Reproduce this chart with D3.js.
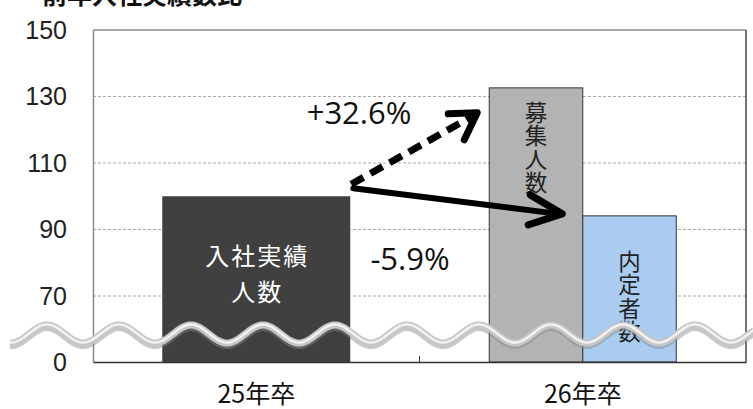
<!DOCTYPE html>
<html><head><meta charset="utf-8">
<script src="https://cdn.jsdelivr.net/npm/d3@7"></script>
<style>
body{margin:0;background:#fff;}
svg{display:block;}
</style></head><body>
<svg id="c" width="753" height="409"></svg>
<script>
// ---- data ----
const categories = ["25年卒", "26年卒"];
const actual25 = [100];            // 入社実績人数 (index)
const recruit26 = [132.6];         // 募集人数
const offers26 = [94.1];           // 内定者数
const changeLabels = ["+32.6%", "-5.9%"];
const yTicks = [0, 70, 90, 110, 130, 150];
const title = "前年入社実績数比";

const svg = d3.select("#c");
const L = 93, R = 746, T = 30, B = 362;
const font = "'Liberation Sans', Arial, sans-serif";
const cjk = "'Noto Sans CJK JP', sans-serif";

// broken axis: 0..70 compressed, 70..150 linear
const y = d3.scaleLinear().domain([0, 70, 150]).range([B, 296, T]);
const x = d3.scaleBand().domain(categories).range([L, R]);

// title (cut off at top)
svg.append("text").attr("x", 42).attr("y", 4)
  .attr("font-family", cjk).attr("font-weight", "bold").attr("font-size", 25)
  .attr("fill", "#111").text(title);

// gridlines
svg.append("g").selectAll("line").data(yTicks.filter(d => d > 0 && d < 150)).join("line")
  .attr("x1", L).attr("x2", R).attr("y1", d => y(d)).attr("y2", d => y(d))
  .attr("stroke", "#a8a8a8").attr("stroke-width", 1).attr("stroke-dasharray", "3,2");

// frame
svg.append("line").attr("x1", L).attr("x2", R).attr("y1", y(150)).attr("y2", y(150)).attr("stroke", "#555").attr("stroke-width", 1);
svg.append("line").attr("x1", R).attr("x2", R).attr("y1", T).attr("y2", B).attr("stroke", "#444").attr("stroke-width", 1.5);

// bars
const bw = 188;
const c25 = x(categories[0]) + x.bandwidth() / 2;
const c26 = x(categories[1]) + x.bandwidth() / 2;
svg.append("g").selectAll("rect").data(actual25).join("rect")
  .attr("x", c25 - bw / 2).attr("width", bw)
  .attr("y", d => y(d)).attr("height", d => B - y(d))
  .attr("fill", "#404040");
const hw = 93.5;
svg.append("g").selectAll("rect").data(recruit26).join("rect")
  .attr("x", c26 - hw).attr("width", hw)
  .attr("y", d => y(d)).attr("height", d => B - y(d))
  .attr("fill", "#b3b3b3").attr("stroke", "#333").attr("stroke-width", 1);
svg.append("g").selectAll("rect").data(offers26).join("rect")
  .attr("x", c26).attr("width", hw)
  .attr("y", d => y(d)).attr("height", d => B - y(d))
  .attr("fill", "#a9ccf0").attr("stroke", "#333").attr("stroke-width", 1);

// bar inner labels
svg.append("text").attr("x", c25 + 1).attr("y", 254).attr("text-anchor", "middle").attr("dominant-baseline", "central")
  .attr("font-family", cjk).attr("font-size", 24).attr("letter-spacing", 2).attr("fill", "#fff").text("入社実績");
svg.append("text").attr("x", c25 + 1).attr("y", 290).attr("text-anchor", "middle").attr("dominant-baseline", "central")
  .attr("font-family", cjk).attr("font-size", 24).attr("letter-spacing", 2).attr("fill", "#fff").text("人数");
function vtext(str, cx, y0, step) {
  [...str].forEach((ch, i) => {
    svg.append("text").attr("x", cx).attr("y", y0 + i * step).attr("text-anchor", "middle")
      .attr("dominant-baseline", "central")
      .attr("font-family", cjk).attr("font-size", 22.5).attr("fill", "#222").text(ch);
  });
}
vtext("募集人数", c26 - hw / 2, 111, 23.3);
vtext("内定者数", c26 + hw / 2, 260, 23.3);

// axes
const ya = svg.append("g").attr("transform", `translate(${L},0)`)
  .call(d3.axisLeft(y).tickValues(yTicks).tickSize(0).tickPadding(26).tickFormat(d3.format("d")));
ya.select(".domain").attr("stroke", "#888").attr("stroke-width", 1.5);
ya.selectAll("text").style("font-family", font).style("font-size", "25px").attr("fill", "#222");

const xa = svg.append("g").attr("transform", `translate(0,${B})`)
  .call(d3.axisBottom(x).tickSize(0).tickPadding(23));
xa.select(".domain").attr("stroke", "#333").attr("stroke-width", 1.5);
xa.selectAll("text").style("font-family", cjk).style("font-size", "25px").attr("fill", "#111");
svg.append("line").attr("x1", x(categories[1])).attr("x2", x(categories[1]))
  .attr("y1", B).attr("y2", B - 6).attr("stroke", "#333").attr("stroke-width", 1);

// change arrows
const sx = c25 + bw / 2 + 1, sy = y(actual25[0]) - 12;
const ax = svg.append("g").attr("fill", "none").attr("stroke", "#000").attr("stroke-linecap", "round").attr("stroke-linejoin", "round");
// dashed arrow to recruit
const t1 = [c26 - hw - 12, y(recruit26[0]) + 25];
ax.append("line").attr("x1", sx).attr("y1", sy).attr("x2", t1[0] - 6).attr("y2", t1[1] + 4)
  .attr("stroke-width", 7).attr("stroke-dasharray", "14,8").attr("stroke-linecap", "butt");
ax.append("path").attr("d", `M${t1[0]-29},${t1[1]+1} L${t1[0]},${t1[1]} L${t1[0]-13},${t1[1]+27}`).attr("stroke-width", 7);
// solid arrow to offers
const s2 = [sx + 2, sy + 4];
const t2 = [c26 - hw + 73, y(offers26[0]) - 2];
ax.append("line").attr("x1", s2[0]).attr("y1", s2[1]).attr("x2", t2[0] - 4).attr("y2", t2[1]).attr("stroke-width", 6);
ax.append("path").attr("d", `M${t2[0]-32},${t2[1]-19} L${t2[0]},${t2[1]} L${t2[0]-34},${t2[1]+11}`).attr("stroke-width", 7);

svg.append("text").attr("x", 359).attr("y", 124).attr("text-anchor", "middle")
  .attr("font-family", "'Open Sans', sans-serif").attr("font-size", 31).attr("fill", "#111").text(changeLabels[0]);
svg.append("text").attr("x", 410).attr("y", 270).attr("text-anchor", "middle")
  .attr("font-family", "'Open Sans', sans-serif").attr("font-size", 31).attr("fill", "#111").text(changeLabels[1]);

// axis break wave (decoration)
const pts = d3.range(10, 756, 2).map(px => [px, 334 + 9 * Math.cos((px - 47) / 72 * 2 * Math.PI) * -1]);
const wl = d3.line();
svg.append("path").attr("d", wl(pts.map(p => [p[0], p[1] + 2.5]))).attr("fill", "none")
  .attr("stroke", "#888").attr("stroke-opacity", 0.45).attr("stroke-width", 7);
svg.append("path").attr("d", wl(pts)).attr("fill", "none").attr("stroke", "#c6c6c6").attr("stroke-width", 7);
svg.append("path").attr("d", wl(pts.map(p => [p[0], p[1] - 0.5]))).attr("fill", "none").attr("stroke", "#f2f2f2").attr("stroke-width", 2.5);
</script>
</body></html>
